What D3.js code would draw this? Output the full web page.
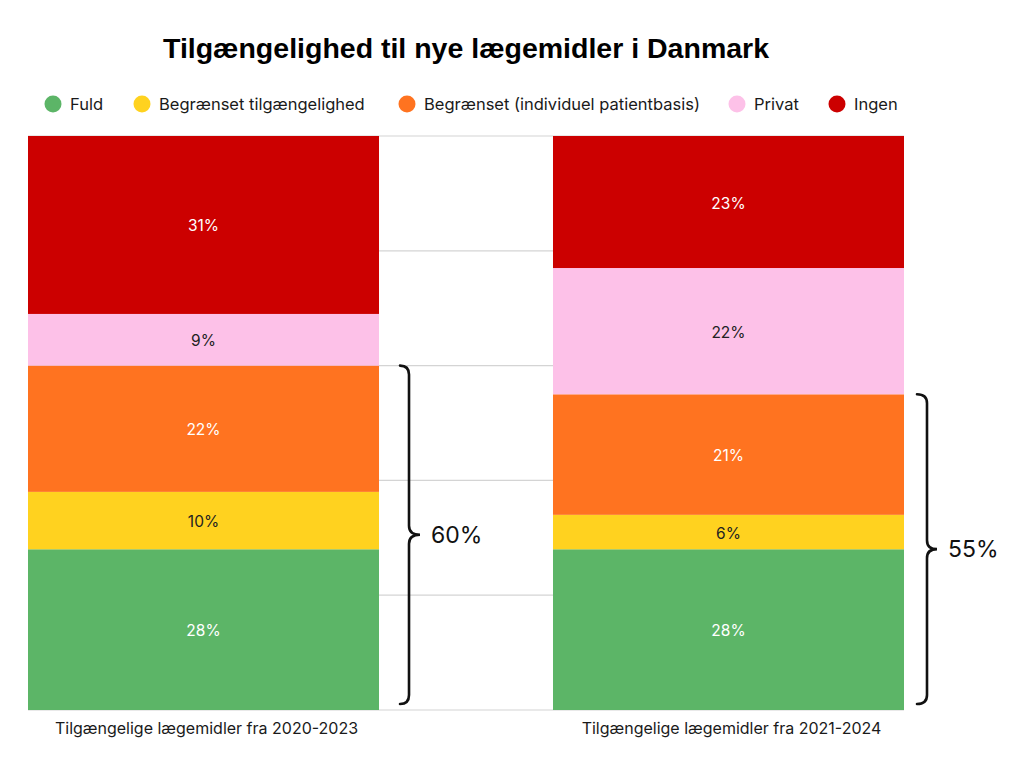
<!DOCTYPE html>
<html><head><meta charset="utf-8">
<script src="https://cdn.jsdelivr.net/npm/d3@7"></script>
<style>body{margin:0;background:#fff}svg{display:block}</style>
</head><body>
<svg id="c" width="1024" height="768"></svg>
<script>
const title = "Tilgængelighed til nye lægemidler i Danmark";
const categories = ["Tilgængelige lægemidler fra 2020-2023", "Tilgængelige lægemidler fra 2021-2024"];
const seriesNames = ["Fuld", "Begrænset tilgængelighed", "Begrænset (individuel patientbasis)", "Privat", "Ingen"];
const seriesColors = ["#5cb567", "#ffd21f", "#ff7320", "#fdc1e8", "#cc0000"];
const labelColors = ["#ffffff", "#222222", "#ffffff", "#222222", "#ffffff"];
const fuld = [28, 28];
const begraenset = [10, 6];
const individuel = [22, 21];
const privat = [9, 22];
const ingen = [31, 23];
const braceTotals = [60, 55];
const gridTicks = [0, 20, 40, 60, 80, 100];

const values = [fuld, begraenset, individuel, privat, ingen];
const table = categories.map((c, i) => {
  const o = {cat: c};
  seriesNames.forEach((s, k) => o[s] = values[k][i]);
  return o;
});
const stacked = d3.stack().keys(seriesNames)(table);

const svg = d3.select("#c");
const font = "Inter, 'Noto Sans', sans-serif";
const x = d3.scaleBand().domain(categories).range([28, 904]).paddingInner(0.3314).paddingOuter(0);
const y = d3.scaleLinear().domain([0, 100]).range([710, 136]);

// gridlines
svg.append("g").selectAll("line").data(gridTicks).join("line")
  .attr("x1", x.range()[0]).attr("x2", x.range()[1])
  .attr("y1", d => y(d)).attr("y2", d => y(d))
  .attr("stroke", "#d4d4d4").attr("stroke-width", 1.2);

// bars
const g = svg.append("g");
stacked.forEach((layer, k) => {
  g.append("g").selectAll("rect").data(layer).join("rect")
    .attr("x", d => x(d.data.cat)).attr("width", x.bandwidth())
    .attr("y", d => y(d[1])).attr("height", d => y(d[0]) - y(d[1]))
    .attr("fill", seriesColors[k]);
  g.append("g").selectAll("text").data(layer).join("text")
    .attr("x", d => x(d.data.cat) + x.bandwidth() / 2)
    .attr("y", d => (y(d[0]) + y(d[1])) / 2 + 1)
    .attr("text-anchor", "middle").attr("dominant-baseline", "central")
    .attr("font-family", font).attr("font-size", 15.5)
    .attr("fill", labelColors[k])
    .text(d => (d[1] - d[0]) + "%");
});

// category labels
svg.append("g").selectAll("text").data(categories).join("text")
  .attr("x", d => x(d) + x.bandwidth() / 2 + 3).attr("y", 728)
  .attr("text-anchor", "middle").attr("dominant-baseline", "central")
  .attr("font-family", font).attr("font-size", 16).attr("fill", "#1a1a1a")
  .text(d => d);

// braces
const braceOffsets = [[21, 30, 41, 52], [13, 23, 33, 44]];
categories.forEach((c, i) => {
  const right = x(c) + x.bandwidth();
  const [oe, os, ot, ol] = braceOffsets[i];
  const xe = right + oe, xs = right + os, xt = right + ot;
  const top = y(braceTotals[i]), bot = y(0) - 6, mid = (top + bot) / 2, r = 9;
  const p = d3.path();
  p.moveTo(xe, top);
  p.quadraticCurveTo(xs, top, xs, top + r);
  p.lineTo(xs, mid - r);
  p.quadraticCurveTo(xs, mid, xt, mid);
  p.quadraticCurveTo(xs, mid, xs, mid + r);
  p.lineTo(xs, bot - r);
  p.quadraticCurveTo(xs, bot, xe, bot);
  svg.append("path").attr("d", p.toString()).attr("fill", "none")
    .attr("stroke", "#111").attr("stroke-width", 2.6).attr("stroke-linecap", "round");
  svg.append("text").attr("x", right + ol).attr("y", mid)
    .attr("dominant-baseline", "central").attr("font-family", font)
    .attr("font-size", 23).attr("fill", "#111").text(braceTotals[i] + "%");
});

// title
svg.append("text").attr("x", 466).attr("y", 58)
  .attr("text-anchor", "middle")
  .attr("font-family", "'Liberation Sans', Arial, sans-serif").attr("font-weight", "bold")
  .attr("font-size", 28.5).attr("fill", "#000").text(title);

// legend
const legendX = [53, 142, 407, 737, 837];
const lg = svg.append("g");
seriesNames.forEach((s, k) => {
  lg.append("circle").attr("cx", legendX[k]).attr("cy", 104).attr("r", 8.5).attr("fill", seriesColors[k]);
  lg.append("text").attr("x", legendX[k] + 17).attr("y", 104)
    .attr("dominant-baseline", "central").attr("font-family", font)
    .attr("font-size", 16.5).attr("fill", "#1a1a1a").text(s);
});
</script>
</body></html>
